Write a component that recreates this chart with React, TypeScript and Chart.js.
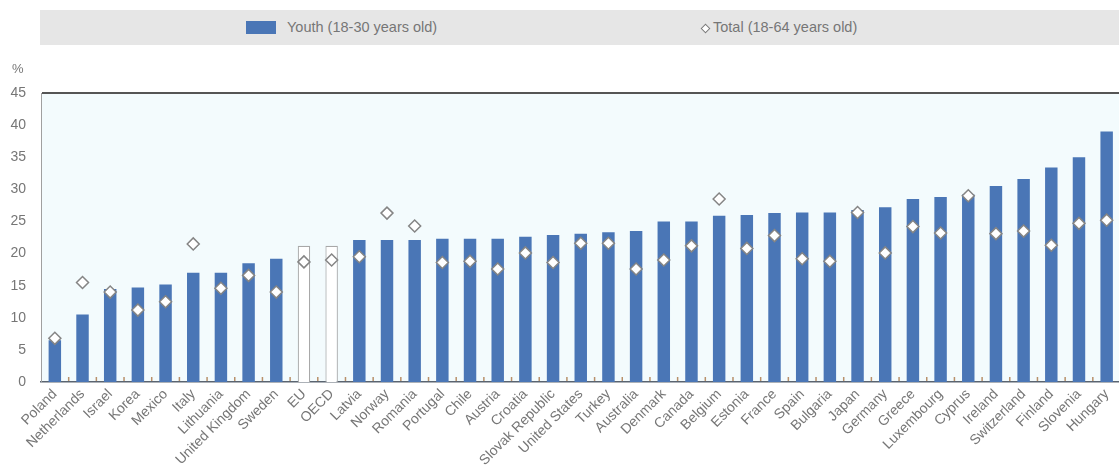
import React, { useEffect, useRef } from "react";
import { Chart, registerables } from "chart.js";

Chart.register(...registerables);

const categories = [
  "Poland", "Netherlands", "Israel", "Korea", "Mexico", "Italy", "Lithuania",
  "United Kingdom", "Sweden", "EU", "OECD", "Latvia", "Norway", "Romania",
  "Portugal", "Chile", "Austria", "Croatia", "Slovak Republic", "United States",
  "Turkey", "Australia", "Denmark", "Canada", "Belgium", "Estonia", "France",
  "Spain", "Bulgaria", "Japan", "Germany", "Greece", "Luxembourg", "Cyprus",
  "Ireland", "Switzerland", "Finland", "Slovenia", "Hungary",
];

const youth = [
  6.5, 10.5, 14.5, 14.7, 15.2, 17.0, 17.0, 18.5, 19.2, 21.2, 21.2, 22.1, 22.1,
  22.1, 22.3, 22.3, 22.3, 22.6, 22.9, 23.1, 23.3, 23.5, 25.0, 25.0, 25.9, 26.0,
  26.3, 26.4, 26.4, 26.8, 27.2, 28.5, 28.8, 29.2, 30.5, 31.6, 33.4, 35.0, 39.0,
];

const total = [
  6.8, 15.5, 14.0, 11.2, 12.5, 21.5, 14.6, 16.6, 14.0, 18.7, 19.0, 19.5, 26.3,
  24.3, 18.6, 18.8, 17.6, 20.1, 18.6, 21.6, 21.6, 17.6, 19.0, 21.2, 28.5, 20.8,
  22.8, 19.2, 18.8, 26.4, 20.1, 24.2, 23.2, 29.0, 23.1, 23.5, 21.3, 24.7, 25.2,
];

const aggregates = ["EU", "OECD"];
const seriesNames = ["Youth (18-30 years old)", "Total (18-64 years old)"];
const yMin = 0;
const yMax = 45;
const yStep = 5;

const BLUE = "#4a76b6";
const FONT = "'Liberation Sans', Arial, sans-serif";
const TEXT = "#767676";

const bgPlugin = {
  id: "plotBg",
  beforeDraw(chart: any) {
    const { ctx, chartArea } = chart;
    ctx.save();
    ctx.fillStyle = "#f3fbfd";
    ctx.fillRect(chartArea.left, chartArea.top, chartArea.right - chartArea.left, chartArea.bottom - chartArea.top);
    ctx.restore();
  },
  afterDraw(chart: any) {
    const { ctx, chartArea } = chart;
    const xs = chart.scales.x;
    ctx.save();
    ctx.strokeStyle = "#b8906a";
    ctx.lineWidth = 1.5;
    for (let i = 0; i < categories.length - 1; i++) {
      const px = xs.getPixelForValue(i + 0.5);
      ctx.beginPath();
      ctx.moveTo(px, chartArea.bottom - 1);
      ctx.lineTo(px, chartArea.bottom - 5);
      ctx.stroke();
    }
    ctx.restore();
  },
};

export default function App() {
  const ref = useRef<HTMLCanvasElement | null>(null);

  useEffect(() => {
    if (!ref.current) return;
    const chart = new Chart(ref.current, {
      type: "bar",
      data: {
        labels: categories,
        datasets: [
          {
            type: "line",
            label: seriesNames[1],
            data: total,
            showLine: false,
            pointStyle: "rectRot",
            pointRadius: 6,
            pointBackgroundColor: "#ffffff",
            pointBorderColor: "#858585",
            pointBorderWidth: 1.5,
            order: 0,
          } as any,
          {
            type: "bar",
            label: seriesNames[0],
            data: youth,
            backgroundColor: categories.map((c) => (aggregates.includes(c) ? "#ffffff" : BLUE)),
            borderColor: categories.map((c) => (aggregates.includes(c) ? "#a8a8a8" : BLUE)),
            borderWidth: categories.map((c) => (aggregates.includes(c) ? 1.2 : 0)),
            barPercentage: 0.45,
            categoryPercentage: 1,
            order: 1,
          } as any,
        ],
      },
      options: {
        responsive: false,
        animation: false,
        layout: { padding: { top: 93, right: 1, left: 0, bottom: 0 } },
        plugins: { legend: { display: false }, tooltip: { enabled: false } },
        scales: {
          x: {
            offset: true,
            afterFit(scale: any) {
              scale.height = 90;
            },
            grid: { display: false, drawTicks: false },
            border: { display: true, color: "#5a6470", width: 1.5 },
            ticks: {
              autoSkip: false,
              maxRotation: 45,
              minRotation: 45,
              padding: 4,
              color: TEXT,
              font: { family: FONT, size: 14 },
            },
          },
          y: {
            min: yMin,
            max: yMax,
            afterFit(scale: any) {
              scale.width = 41;
            },
            grid: {
              drawTicks: false,
              color: (c: any) => (c.tick && c.tick.value === yMax ? "#555555" : "rgba(0,0,0,0)"),
              lineWidth: (c: any) => (c.tick && c.tick.value === yMax ? 2 : 0),
            },
            border: { display: true, color: "#a0a0a0", width: 1 },
            ticks: {
              stepSize: yStep,
              padding: 15,
              color: TEXT,
              font: { family: FONT, size: 14 },
            },
          },
        },
      },
      plugins: [bgPlugin],
    });
    return () => chart.destroy();
  }, []);

  return (
    <div>
      <div
        style={{
          position: "fixed",
          left: 40,
          top: 10,
          width: 1079,
          height: 35,
          background: "#e6e6e6",
          fontFamily: FONT,
          fontSize: 14.5,
          color: TEXT,
          zIndex: 2,
        }}
      >
        <div style={{ position: "absolute", left: 206, top: 11, width: 30, height: 13, background: BLUE }} />
        <span style={{ position: "absolute", left: 247, top: 9, whiteSpace: "nowrap" }}>{seriesNames[0]}</span>
        <div
          style={{
            position: "absolute",
            left: 662,
            top: 15,
            width: 5,
            height: 5,
            background: "#fff",
            border: "1.5px solid #7a7a7a",
            transform: "rotate(45deg)",
          }}
        />
        <span style={{ position: "absolute", left: 673, top: 9, whiteSpace: "nowrap" }}>{seriesNames[1]}</span>
      </div>
      <span
        style={{
          position: "fixed",
          left: 12,
          top: 61,
          fontFamily: FONT,
          fontSize: 13,
          color: TEXT,
          zIndex: 2,
        }}
      >
        %
      </span>
      <canvas
        ref={ref}
        width={1128}
        height={472}
        style={{ position: "fixed", left: 0, top: 0, width: 1128, height: 472 }}
      />
    </div>
  );
}
